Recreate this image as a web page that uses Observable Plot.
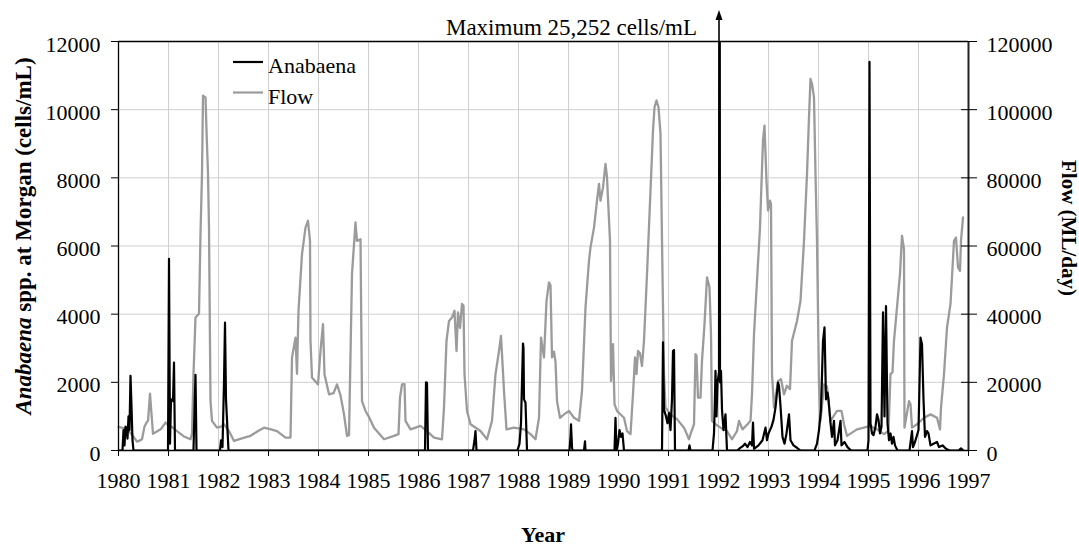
<!DOCTYPE html>
<html>
<head>
<meta charset="utf-8">
<script src="https://cdn.jsdelivr.net/npm/d3@7"></script>
<script src="https://cdn.jsdelivr.net/npm/@observablehq/plot@0.6"></script>
<style>
  body { margin: 0; background: #fff; }
  #chart svg { display: block; font-family: "Liberation Serif", "Times New Roman", serif; }
</style>
</head>
<body>
<div id="chart"></div>
<script>
// River Murray at Morgan: Anabaena counts (cells/mL) and river flow (ML/day), 1980–1997

// [decimal year, flow ML/day]
const flowSeries = [
  [1980.00,6900],[1980.10,6600],[1980.17,6200],[1980.25,5000],[1980.31,3800],[1980.37,2600],
  [1980.42,2900],[1980.47,3300],[1980.52,7000],[1980.56,8200],[1980.59,8700],[1980.63,16700],
  [1980.66,10700],[1980.69,4900],[1980.75,5400],[1980.85,6300],[1980.94,8200],[1981.00,7400],
  [1981.08,6800],[1981.17,5700],[1981.30,4200],[1981.44,3300],[1981.47,5000],[1981.50,22400],
  [1981.54,39000],[1981.61,40100],[1981.64,63600],[1981.67,81100],[1981.69,104100],[1981.74,103600],
  [1981.76,93900],[1981.79,81100],[1981.81,65400],[1981.84,14500],[1981.87,8700],[1981.97,6700],
  [1982.05,7000],[1982.11,7700],[1982.21,5700],[1982.31,2800],[1982.45,3500],[1982.64,4300],
  [1982.80,5800],[1982.91,6700],[1983.05,6200],[1983.17,5700],[1983.34,3800],[1983.44,3800],
  [1983.47,27300],[1983.54,33100],[1983.57,22500],[1983.60,41000],[1983.67,57600],[1983.74,65400],
  [1983.79,67400],[1983.83,61500],[1983.84,32200],[1983.87,21400],[1983.99,19400],[1984.04,29200],
  [1984.09,37100],[1984.12,22400],[1984.21,16500],[1984.30,16800],[1984.37,19400],[1984.44,16200],
  [1984.51,10600],[1984.57,4300],[1984.61,4500],[1984.67,51800],[1984.74,66900],[1984.77,61500],
  [1984.84,62000],[1984.87,14500],[1984.94,11600],[1985.00,10100],[1985.11,6700],[1985.31,3300],
  [1985.51,4300],[1985.60,4800],[1985.63,15500],[1985.67,19400],[1985.72,19500],[1985.74,8700],
  [1985.84,6200],[1986.04,7200],[1986.17,5700],[1986.31,3800],[1986.47,3300],[1986.51,12600],
  [1986.56,32200],[1986.61,38000],[1986.67,39000],[1986.72,41000],[1986.76,29200],[1986.79,40500],
  [1986.83,36000],[1986.87,43000],[1986.90,42500],[1986.92,22400],[1986.97,11600],[1987.04,7700],
  [1987.24,5700],[1987.37,3300],[1987.47,8700],[1987.54,22400],[1987.61,29200],[1987.65,33600],
  [1987.71,17500],[1987.76,6200],[1987.91,6700],[1988.11,6200],[1988.24,4800],[1988.34,3300],
  [1988.41,9600],[1988.45,33100],[1988.51,27300],[1988.56,43900],[1988.61,49300],[1988.64,48500],
  [1988.67,27300],[1988.71,29000],[1988.74,26000],[1988.77,14500],[1988.83,9600],[1988.91,10600],
  [1989.01,11600],[1989.11,9600],[1989.21,8700],[1989.27,17500],[1989.34,42000],[1989.41,55700],
  [1989.44,59600],[1989.51,65400],[1989.57,73300],[1989.61,78200],[1989.64,73300],[1989.69,77200],
  [1989.74,84100],[1989.77,80100],[1989.83,61500],[1989.85,20400],[1989.89,31200],[1989.92,13600],
  [1989.97,11600],[1990.11,9600],[1990.17,5700],[1990.24,4800],[1990.29,16500],[1990.33,27300],
  [1990.36,22400],[1990.39,29200],[1990.43,28500],[1990.47,24800],[1990.51,32200],[1990.57,51800],
  [1990.64,76200],[1990.69,93900],[1990.72,100700],[1990.76,102700],[1990.80,100700],[1990.84,92900],
  [1990.87,61500],[1990.91,22400],[1990.94,12600],[1991.04,10600],[1991.17,9200],[1991.31,6700],
  [1991.41,3300],[1991.44,4800],[1991.51,7700],[1991.54,28300],[1991.56,27800],[1991.59,15500],
  [1991.64,15500],[1991.67,26300],[1991.72,37100],[1991.77,50800],[1991.82,47800],[1991.85,34100],
  [1991.87,8700],[1991.94,7700],[1992.04,6700],[1992.17,5700],[1992.27,3300],[1992.37,5700],
  [1992.41,8700],[1992.48,6200],[1992.58,7700],[1992.64,8700],[1992.67,16500],[1992.71,34100],
  [1992.77,49800],[1992.83,65400],[1992.85,74300],[1992.89,90900],[1992.92,95300],[1992.96,79200],
  [1992.99,70400],[1993.03,73300],[1993.05,72300],[1993.07,22400],[1993.11,12600],[1993.19,20400],
  [1993.25,20900],[1993.31,16500],[1993.37,19000],[1993.43,18000],[1993.47,32200],[1993.57,38000],
  [1993.64,43900],[1993.71,61500],[1993.77,81100],[1993.81,97800],[1993.84,109000],[1993.87,107600],
  [1993.91,103600],[1993.94,81100],[1993.97,61500],[1994.01,19400],[1994.04,8700],[1994.11,19400],
  [1994.17,18800],[1994.24,8700],[1994.37,11600],[1994.46,11600],[1994.51,7700],[1994.57,4300],
  [1994.77,6200],[1994.91,6700],[1995.04,7200],[1995.17,6200],[1995.31,4800],[1995.40,5700],
  [1995.44,22400],[1995.48,23000],[1995.51,32200],[1995.57,42000],[1995.63,51800],[1995.67,63000],
  [1995.71,59000],[1995.72,6700],[1995.81,14500],[1995.84,13600],[1995.87,6700],[1995.97,7700],
  [1996.11,9600],[1996.24,10600],[1996.37,9600],[1996.43,6200],[1996.45,12600],[1996.51,22400],
  [1996.57,36100],[1996.64,43000],[1996.71,61500],[1996.75,62500],[1996.79,53700],[1996.83,52700],
  [1996.85,61500],[1996.89,68400]
];

// [decimal year, Anabaena cells/mL]
const anabaenaSeries = [
  [1980.00,0],[1980.08,0],[1980.10,600],[1980.12,150],[1980.14,700],[1980.16,650],[1980.18,350],
  [1980.20,1000],[1980.22,600],[1980.24,2190],[1980.26,1300],[1980.28,300],[1980.30,0],
  [1980.99,0],[1981.01,5620],[1981.03,200],[1981.05,1500],[1981.09,1450],[1981.11,2580],[1981.13,0],
  [1981.50,0],[1981.52,1200],[1981.54,2220],[1981.56,0],
  [1982.03,0],[1982.05,300],[1982.08,100],[1982.11,2000],[1982.13,3750],[1982.15,1500],[1982.20,0],
  [1986.13,0],[1986.15,2000],[1986.17,1990],[1986.19,0],
  [1987.09,0],[1987.12,300],[1987.14,570],[1987.16,0],
  [1987.98,0],[1988.02,200],[1988.05,800],[1988.07,2000],[1988.09,3140],[1988.10,3000],
  [1988.11,1500],[1988.14,1400],[1988.17,0],
  [1989.02,0],[1989.04,400],[1989.05,770],[1989.07,100],[1989.08,0],
  [1989.31,0],[1989.33,270],[1989.34,0],
  [1989.92,0],[1989.94,960],[1989.96,0],[1989.99,200],[1990.02,600],[1990.05,400],[1990.08,500],[1990.11,0],
  [1990.87,0],[1990.89,3170],[1990.91,1200],[1990.95,1000],[1990.98,800],[1991.01,1100],
  [1991.04,600],[1991.07,1500],[1991.09,2920],[1991.11,2950],[1991.13,0],
  [1991.40,0],[1991.42,150],[1991.44,0],
  [1991.88,0],[1991.91,500],[1991.93,1600],[1991.94,2340],[1991.96,1000],[1991.98,2000],
  [1992.01,2300],[1992.02,25252],[1992.03,2000],[1992.05,2340],[1992.07,1200],[1992.10,600],
  [1992.14,1060],[1992.17,0],
  [1992.38,0],[1992.42,60],[1992.48,120],[1992.53,200],[1992.58,100],[1992.63,250],[1992.67,150],
  [1992.69,820],[1992.71,50],[1992.80,150],[1992.88,300],[1992.94,670],[1992.97,300],[1993.00,500],
  [1993.06,700],[1993.10,900],[1993.14,1260],[1993.19,1990],[1993.21,1900],[1993.24,1300],
  [1993.28,400],[1993.32,200],[1993.36,500],[1993.41,1060],[1993.44,300],[1993.50,150],
  [1993.57,80],[1993.64,0],
  [1993.92,0],[1993.97,200],[1994.01,600],[1994.05,1200],[1994.09,3220],[1994.12,3610],
  [1994.15,1500],[1994.18,1700],[1994.20,1500],[1994.24,800],[1994.27,400],[1994.31,870],
  [1994.33,150],[1994.38,300],[1994.44,870],[1994.46,150],[1994.52,250],[1994.58,100],[1994.65,0],
  [1994.98,0],[1995.00,300],[1995.02,11400],[1995.04,800],[1995.07,500],[1995.10,450],
  [1995.14,700],[1995.17,1060],[1995.20,900],[1995.23,500],[1995.26,700],[1995.29,4050],
  [1995.32,1000],[1995.35,4240],[1995.38,800],[1995.41,300],[1995.44,500],[1995.47,200],
  [1995.50,400],[1995.53,150],[1995.58,0],
  [1995.82,0],[1995.87,570],[1995.89,100],[1995.93,250],[1996.00,600],[1996.04,3310],
  [1996.07,3120],[1996.10,1500],[1996.13,400],[1996.17,570],[1996.20,500],[1996.24,150],
  [1996.30,200],[1996.37,250],[1996.41,100],[1996.48,150],[1996.55,50],[1996.62,0],
  [1996.80,0],[1996.85,60],[1996.90,0]
];

const yearTicks = d3.range(1980, 1998);                       // 1980 … 1997
const cellTicks = [0, 2000, 4000, 6000, 8000, 10000, 12000];   // left axis
const flowTicks = [0, 20000, 40000, 60000, 80000, 100000, 120000]; // right axis
const seriesNames = ["Anabaena", "Flow"];
const seriesColors = ["#000000", "#9b9b9b"];
const peakYear = 1992.02;
const peakNote = "Maximum 25,252 cells/mL";

// flow shares the left scale at 1/10 (12000 cells/mL ↔ 120000 ML/day)
const flowRatio = 10;
const flowData = flowSeries.map(([year, flow]) => ({year, v: flow / flowRatio}));
const anaData = anabaenaSeries.map(([year, cells]) => ({year, cells}));
const flowTickPos = flowTicks.map(f => f / flowRatio);
const noText = () => "";

const W = 1079, H = 545;
const chart = Plot.plot({
  width: W,
  height: H,
  marginLeft: 118,
  marginRight: 111,
  marginTop: 41,
  marginBottom: 95,
  style: {fontFamily: "Liberation Serif, Times New Roman, serif", fontSize: "22px", color: "#000", background: "#fff", overflow: "visible"},
  x: {domain: [1980, 1997]},
  y: {domain: [0, 12000]},
  marks: [
    Plot.ruleX(yearTicks, {stroke: "#cfcfcf", strokeWidth: 1}),
    Plot.ruleY(cellTicks, {stroke: "#cfcfcf", strokeWidth: 1}),
    Plot.line(flowData, {x: "year", y: "v", stroke: seriesColors[1], strokeWidth: 2.3}),
    Plot.line(anaData, {x: "year", y: "cells", stroke: seriesColors[0], strokeWidth: 2.2, clip: true}),
    Plot.ruleY([12000], {stroke: "#000", strokeWidth: 1.3}),
    Plot.ruleX([1980], {stroke: "#000", strokeWidth: 1.3}),
    Plot.ruleX([1997], {stroke: "#222", strokeWidth: 2}),
    Plot.ruleY([0], {stroke: "#000", strokeWidth: 1.5}),
    Plot.axisX(yearTicks, {tickSize: 6, tickPadding: 16, tickFormat: d => String(d), label: null}),
    // left axis: outward ticks, then labels
    Plot.axisY(cellTicks, {anchor: "left", tickSize: 7, tickFormat: noText, label: null}),
    Plot.axisY(cellTicks, {anchor: "left", tickSize: 0, tickPadding: 18, tickFormat: d => String(d), dy: 3, label: null}),
    // right axis: ticks crossing the axis line, then flow labels
    Plot.axisY(flowTickPos, {anchor: "right", tickSize: 16, dx: -8, tickFormat: noText, label: null}),
    Plot.axisY(flowTickPos, {anchor: "right", tickSize: 0, tickPadding: 18, tickFormat: d => String(d * flowRatio), dy: 3, label: null})
  ]
});

const svg = d3.select(chart);
const xs = chart.scale("x"), ys = chart.scale("y");
const font = "Liberation Serif, Times New Roman, serif";

// legend, top-left inside the frame
seriesNames.forEach((name, i) => {
  const ly = 62 + i * 30.5;
  svg.append("line").attr("x1", 233).attr("x2", 263).attr("y1", ly).attr("y2", ly)
    .attr("stroke", seriesColors[i]).attr("stroke-width", 2.2);
  svg.append("text").attr("x", 268).attr("y", ly + 11).attr("text-anchor", "start")
    .attr("font-family", font).attr("font-size", 22).attr("fill", "#000").text(name);
});

// off-scale peak marker
const peakX = xs.apply(peakYear);
const frameTop = ys.apply(12000);
svg.append("line").attr("x1", peakX).attr("x2", peakX).attr("y1", frameTop).attr("y2", 18)
  .attr("stroke", "#000").attr("stroke-width", 1.6);
svg.append("path").attr("d", `M${peakX},10 L${peakX - 3.5},20 L${peakX + 3.5},20 Z`).attr("fill", "#000");
svg.append("text").attr("x", peakX - 22).attr("y", 35).attr("text-anchor", "end")
  .attr("font-family", font).attr("font-size", 23).attr("fill", "#000").text(peakNote);

// axis titles
svg.append("text").attr("x", 543).attr("y", 542).attr("text-anchor", "middle")
  .attr("font-family", font).attr("font-size", 22).attr("font-weight", "bold").text("Year");

const leftTitle = svg.append("text").attr("transform", "translate(31,236) rotate(-90)")
  .attr("text-anchor", "middle").attr("font-family", font).attr("font-size", 23).attr("font-weight", "bold");
leftTitle.append("tspan").attr("font-style", "italic").text("Anabaena");
leftTitle.append("tspan").text(" spp. at Morgan (cells/mL)");

svg.append("text").attr("transform", "translate(1062,228) rotate(90)")
  .attr("text-anchor", "middle").attr("font-family", font).attr("font-size", 21).attr("font-weight", "bold")
  .text("Flow (ML/day)");

document.getElementById("chart").appendChild(chart);
</script>
</body>
</html>
